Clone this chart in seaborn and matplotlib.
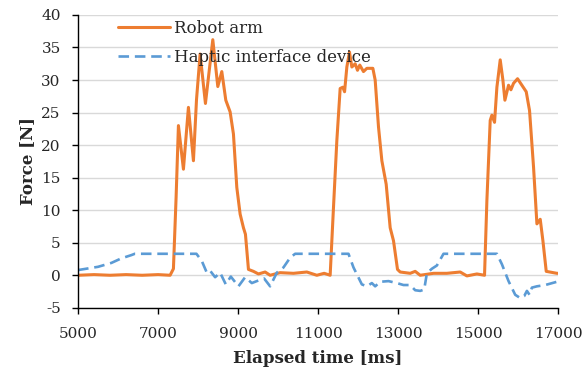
import numpy as np
import pandas as pd
import matplotlib
matplotlib.use("Agg")
import matplotlib.pyplot as plt
import seaborn as sns

# Robot arm force
arm_t = [5000, 5400, 5800, 6200, 6600, 7000, 7300, 7383, 7450, 7508, 7633, 7758, 7883, 7960,
         8050, 8183, 8367, 8492, 8592, 8692, 8800, 8883, 8967, 9050, 9133, 9183, 9258, 9383,
         9508, 9675, 9800, 10050, 10383, 10717, 10967, 11150, 11300, 11383, 11467, 11550,
         11617, 11660, 11717, 11783, 11842, 11925, 11983, 12040, 12133, 12217, 12367, 12425,
         12508, 12592, 12700, 12800, 12883, 12983, 13050, 13300, 13425, 13550, 13883, 14217,
         14550, 14717, 14967, 15158, 15217, 15300, 15342, 15408, 15467, 15550, 15617, 15667,
         15758, 15817, 15883, 15983, 16092, 16200, 16283, 16383, 16467, 16550, 16617, 16700,
         16967, 17000]
arm_f = [0.0, 0.1, 0.0, 0.1, 0.0, 0.1, 0.0, 1.0, 12.0, 23.0, 16.3, 25.8, 17.6, 27.0,
         34.0, 26.4, 36.2, 29.0, 31.3, 26.9, 25.1, 21.7, 13.5, 9.4, 7.3, 6.3, 0.9, 0.6,
         0.2, 0.5, 0.0, 0.4, 0.3, 0.5, 0.0, 0.3, 0.0, 10.4, 20.7, 28.7,
         28.9, 28.2, 32.0, 34.3, 32.0, 32.5, 31.5, 32.3, 31.3, 31.8, 31.8, 30.0,
         22.8, 17.6, 14.0, 7.3, 5.3, 0.9, 0.5, 0.3, 0.6, 0.0, 0.3, 0.3,
         0.5, -0.1, 0.2, 0.0, 11.5, 23.8, 24.6, 23.5, 28.9, 33.1, 30.0, 26.9,
         29.2, 28.5, 29.5, 30.2, 29.2, 28.2, 25.3, 16.6, 7.9, 8.6, 5.3, 0.6,
         0.3, 0.3]

# Haptic interface device force
hap_t = [5000, 5500, 5833, 6083, 6333, 6417, 7958, 8092, 8217, 8300, 8425, 8550, 8692, 8817,
         9008, 9175, 9342, 9508, 9650, 9800, 9967, 10133, 10300, 10425, 11758, 11883, 12092,
         12217, 12342, 12425, 12550, 12758, 12967, 13133, 13300, 13425, 13550, 13650, 13717,
         13842, 13967, 14133, 15467, 15592, 15758, 15925, 16050, 16150, 16217, 16283, 16342,
         16467, 16675, 16967, 17000]
hap_f = [0.8, 1.3, 1.9, 2.6, 3.1, 3.3, 3.3, 2.2, 0.4, 0.7, -0.3, 0.4, -1.4, -0.2,
         -1.7, -0.3, -1.2, -0.8, -0.5, -1.7, 0.4, 1.2, 2.7, 3.3, 3.3, 1.2, -1.4,
         -1.7, -1.2, -1.7, -1.0, -0.9, -1.2, -1.5, -1.5, -2.3, -2.4, -2.2, 0.3,
         1.0, 1.5, 3.3, 3.3, 1.7, -0.9, -3.0, -3.5, -3.2, -2.4, -3.0, -1.9,
         -1.7, -1.5, -1.0, -0.9]

sns.set_style("white")
plt.rcParams['font.family'] = ['DejaVu Serif']
plt.rcParams['axes.unicode_minus'] = False

fig = plt.figure(figsize=(5.87, 3.74), dpi=100)
ax = fig.add_axes([0.133, 0.177, 0.818, 0.783])

sns.lineplot(x=arm_t, y=arm_f, ax=ax, color="#ED7D31", linewidth=2.2, label="Robot arm")
sns.lineplot(x=hap_t, y=hap_f, ax=ax, color="#5B9BD5", linewidth=1.9, linestyle="--",
             label="Haptic interface device")
ax.lines[1].set_dashes([4, 2.2])

ax.set_xlim(5000, 17000)
ax.set_ylim(-5, 40)
ax.set_xticks(np.arange(5000, 17001, 2000))
ax.set_yticks(np.arange(-5, 41, 5))
ax.yaxis.grid(True, color="#d9d9d9", linewidth=1)
ax.set_axisbelow(True)
for s in ["top", "right"]:
    ax.spines[s].set_visible(False)
for s in ["left", "bottom"]:
    ax.spines[s].set_color("black")
    ax.spines[s].set_linewidth(1)
ax.tick_params(axis="both", direction="out", length=4, width=1, color="black",
               labelsize=11, left=True, bottom=True)
ax.tick_params(axis="x", pad=10)
ax.tick_params(axis="y", pad=8.5)

ax.set_xlabel("Elapsed time [ms]", fontsize=12, fontweight="bold", labelpad=6)
ax.set_ylabel("Force [N]", fontsize=12, fontweight="bold", labelpad=4)

leg = ax.legend(loc="upper left", bbox_to_anchor=(0.052, 1.035), frameon=False, fontsize=12,
                handlelength=3.1, handletextpad=0.25, labelspacing=0.75)
leg.get_lines()[1].set_dashes([4, 2.2])

fig.savefig("out.png", dpi=100)
